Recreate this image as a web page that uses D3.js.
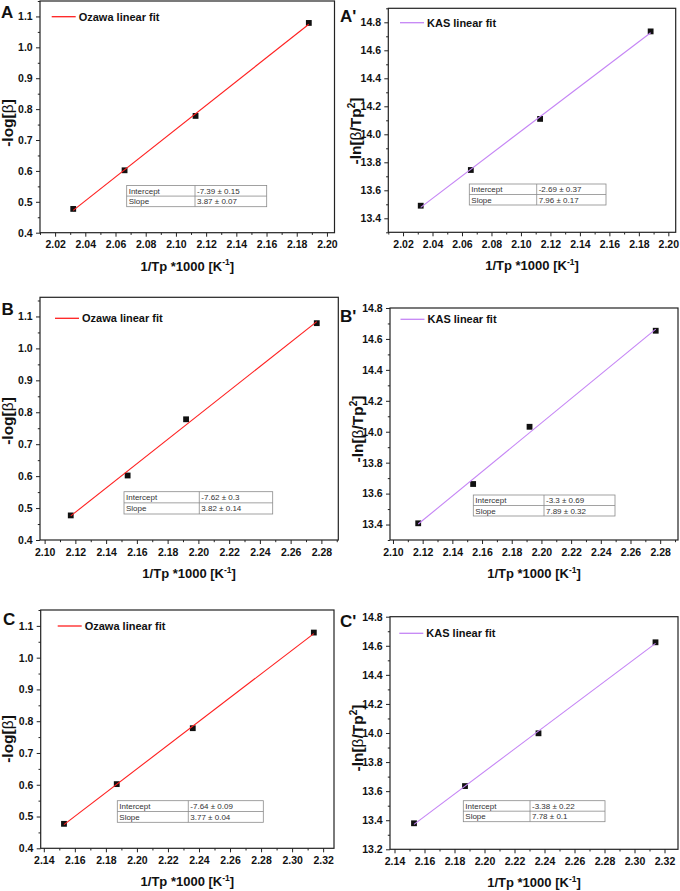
<!DOCTYPE html>
<html><head><meta charset="utf-8">
<script src="https://cdn.jsdelivr.net/npm/d3@7"></script>
<style>body{margin:0;background:#fff} svg{display:block}</style>
</head><body>
<svg id="c" width="680" height="891"></svg>
<script>
// ---------- data ----------
const panelNames = ["A", "A'", "B", "B'", "C", "C'"];
const methods = ["Ozawa", "KAS", "Ozawa", "KAS", "Ozawa", "KAS"];
const xA = [2.032, 2.066, 2.113, 2.188];
const xB = [2.117, 2.154, 2.192, 2.277];
const xC = [2.153, 2.187, 2.236, 2.314];
const yOzawa = [0.477, 0.602, 0.778, 1.079];
const yKasA = [13.49, 13.745, 14.11, 14.735];
const yKasB = [13.408, 13.662, 14.032, 14.653];
const yKasC = [13.379, 13.635, 13.998, 14.624];
const intercepts = ["-7.39 ± 0.15", "-2.69 ± 0.37", "-7.62 ± 0.3", "-3.3 ± 0.69", "-7.64 ± 0.09", "-3.38 ± 0.22"];
const slopes = ["3.87 ± 0.07", "7.96 ± 0.17", "3.82 ± 0.14", "7.89 ± 0.32", "3.77 ± 0.04", "7.78 ± 0.1"];
const statLabels = ["Intercept", "Slope"];
const legendLabels = {Ozawa: "Ozawa linear fit", KAS: "KAS linear fit"};
const xDomains = [[2.01, 2.205], [2.01, 2.205], [2.097, 2.291], [2.098, 2.292], [2.138, 2.327], [2.137, 2.329]];
const yDomains = [[0.4, 1.15], [13.3, 14.9], [0.4, 1.16], [13.3, 14.8], [0.4, 1.15], [13.2, 14.8]];
const xTickStep = 0.02;
const yTickSteps = {Ozawa: 0.1, KAS: 0.2};
const xTitle = "1/Tp *1000 [K";

const seriesX = [xA, xA, xB, xB, xC, xC];
const seriesY = [yOzawa, yKasA, yOzawa, yKasB, yOzawa, yKasC];

// ---------- layout ----------
const frames = [
  [40, 1, 334.5, 232.7], [388.3, 8.3, 675.7, 232.3],
  [40, 297.3, 338.3, 540], [390, 308, 678, 540],
  [40.7, 610, 334, 848.3], [390, 616.7, 678, 849.3]
];
const legendPos = [[51.7, 16.7], [400, 22.7], [55, 318.3], [400.5, 319.3], [57.7, 626], [399.3, 633.3]];
const statBoxes = [
  [126.7, 185.5, 266.7, 206.7, 195], [469.3, 184, 606, 205, 536.7],
  [124, 491.7, 272.7, 514, 199.3], [473.3, 495, 615, 516, 544],
  [117.3, 800.7, 263.3, 822.3, 188.3], [463.3, 800.7, 605, 821.7, 530]
];
const yTitleCenters = [123, 131, 421, 429, 739, 738];
const labelPos = [[1, 18], [340, 22], [1.5, 315], [340, 322], [3, 625], [340, 627]];
const colors = {Ozawa: "#ff1f1f", KAS: "#c585f5"};
const FONT = "'Liberation Sans', Arial, Helvetica, sans-serif";

const svg = d3.select("#c").style("font-family", FONT);

function ticksBy(dom, step) {
  const out = [];
  const start = Math.ceil(dom[0] / step - 1e-9);
  for (let i = start; i * step <= dom[1] + 1e-9; i++) out.push(+(i * step).toFixed(6));
  return out;
}

panelNames.forEach((name, i) => {
  const m = methods[i];
  const [x0, y0, x1, y1] = frames[i];
  const g = svg.append("g");
  const x = d3.scaleLinear().domain(xDomains[i]).range([x0, x1]);
  const y = d3.scaleLinear().domain(yDomains[i]).range([y1, y0]);
  const ys = yTickSteps[m];

  // axes
  const xMajor = ticksBy(xDomains[i], xTickStep);
  const xMinor = ticksBy(xDomains[i], xTickStep / 2).filter(v => !xMajor.some(t => Math.abs(t - v) < 1e-6));
  const yMajor = ticksBy(yDomains[i], ys);
  const yMinor = ticksBy(yDomains[i], ys / 2).filter(v => !yMajor.some(t => Math.abs(t - v) < 1e-6));

  g.append("g").attr("transform", `translate(0,${y1})`)
    .call(d3.axisBottom(x).tickValues(xMajor).tickFormat(d3.format(".2f")).tickSize(4).tickSizeOuter(0).tickPadding(4.3));
  g.append("g").attr("transform", `translate(0,${y1})`)
    .call(d3.axisBottom(x).tickValues(xMinor).tickFormat("").tickSize(2.2).tickSizeOuter(0));
  g.append("g").attr("transform", `translate(${x0},0)`)
    .call(d3.axisLeft(y).tickValues(yMajor).tickFormat(d3.format(".1f")).tickSize(4).tickSizeOuter(0).tickPadding(3.3));
  g.append("g").attr("transform", `translate(${x0},0)`)
    .call(d3.axisLeft(y).tickValues(yMinor).tickFormat("").tickSize(2.2).tickSizeOuter(0));
  g.selectAll(".domain").remove();
  g.selectAll(".tick line").attr("stroke", "#222").attr("stroke-width", 1);
  g.selectAll(".tick text").attr("font-family", FONT).attr("font-size", 10.5)
    .attr("font-weight", "bold").attr("fill", "#111");

  // frame
  g.append("rect").attr("x", x0).attr("y", y0).attr("width", x1 - x0).attr("height", y1 - y0)
    .attr("fill", "none").attr("stroke", "#222").attr("stroke-width", 1.2);

  // points
  const pts = seriesX[i].map((v, k) => [v, seriesY[i][k]]);
  g.selectAll("rect.pt").data(pts).enter().append("rect").attr("class", "pt")
    .attr("x", d => x(d[0]) - 2.9).attr("y", d => y(d[1]) - 2.9)
    .attr("width", 5.8).attr("height", 5.8).attr("fill", "#111");

  // least-squares fit
  const mx = d3.mean(pts, d => d[0]), my = d3.mean(pts, d => d[1]);
  const b = d3.sum(pts, d => (d[0] - mx) * (d[1] - my)) / d3.sum(pts, d => (d[0] - mx) ** 2);
  const a = my - b * mx;
  const ext = d3.extent(pts, d => d[0]);
  g.append("line").attr("x1", x(ext[0])).attr("y1", y(a + b * ext[0]))
    .attr("x2", x(ext[1])).attr("y2", y(a + b * ext[1]))
    .attr("stroke", colors[m]).attr("stroke-width", 1.1);

  // legend
  const [lx, ly] = legendPos[i];
  g.append("line").attr("x1", lx).attr("x2", lx + 24).attr("y1", ly).attr("y2", ly)
    .attr("stroke", colors[m]).attr("stroke-width", 1.3);
  g.append("text").attr("x", lx + 27).attr("y", ly + 4).attr("font-size", 11)
    .attr("font-weight", "bold").attr("fill", "#111").text(legendLabels[m]);

  // stats box
  const [bx0, by0, bx1, by1, bdiv] = statBoxes[i];
  const bm = (by0 + by1) / 2;
  const sb = g.append("g").attr("stroke", "#8a8a8a").attr("stroke-width", 0.8);
  sb.append("rect").attr("x", bx0).attr("y", by0).attr("width", bx1 - bx0).attr("height", by1 - by0).attr("fill", "#fff");
  sb.append("line").attr("x1", bx0).attr("x2", bx1).attr("y1", bm).attr("y2", bm);
  sb.append("line").attr("x1", bdiv).attr("x2", bdiv).attr("y1", by0).attr("y2", by1);
  const vals = [intercepts[i], slopes[i]];
  statLabels.forEach((s, k) => {
    const cy = k === 0 ? (by0 + bm) / 2 : (bm + by1) / 2;
    g.append("text").attr("x", bx0 + 2).attr("y", cy + 3).attr("font-size", 8).attr("fill", "#333").text(s);
    g.append("text").attr("x", bdiv + 2).attr("y", cy + 3).attr("font-size", 8).attr("fill", "#333").text(vals[k]);
  });

  // x title
  const xt = g.append("text").attr("x", (x0 + x1) / 2).attr("y", y1 + 38).attr("text-anchor", "middle")
    .attr("font-size", 13).attr("font-weight", "bold").attr("fill", "#111");
  xt.append("tspan").text(xTitle);
  xt.append("tspan").attr("font-size", 8.5).attr("dy", -5.5).text("-1");
  xt.append("tspan").attr("dy", 5.5).text("]");

  // y title
  const yt = g.append("text").attr("transform", `translate(${x0 - 27.5},${yTitleCenters[i]}) rotate(-90)`)
    .attr("text-anchor", "middle").attr("font-size", 15.5).attr("font-weight", "bold").attr("fill", "#111");
  if (m === "Ozawa") {
    yt.append("tspan").text("-log[");
    yt.append("tspan").attr("font-weight", "normal").text("β");
    yt.append("tspan").text("]");
  } else {
    yt.append("tspan").text("-ln[");
    yt.append("tspan").attr("font-weight", "normal").text("β");
    yt.append("tspan").text("/Tp");
    yt.append("tspan").attr("font-size", 10).attr("dy", -6).text("2");
    yt.append("tspan").attr("dy", 6).text("]");
  }

  // panel label
  g.append("text").attr("x", labelPos[i][0]).attr("y", labelPos[i][1]).attr("font-size", 17)
    .attr("font-weight", "bold").attr("fill", "#111").text(name);
});
</script>
</body></html>
